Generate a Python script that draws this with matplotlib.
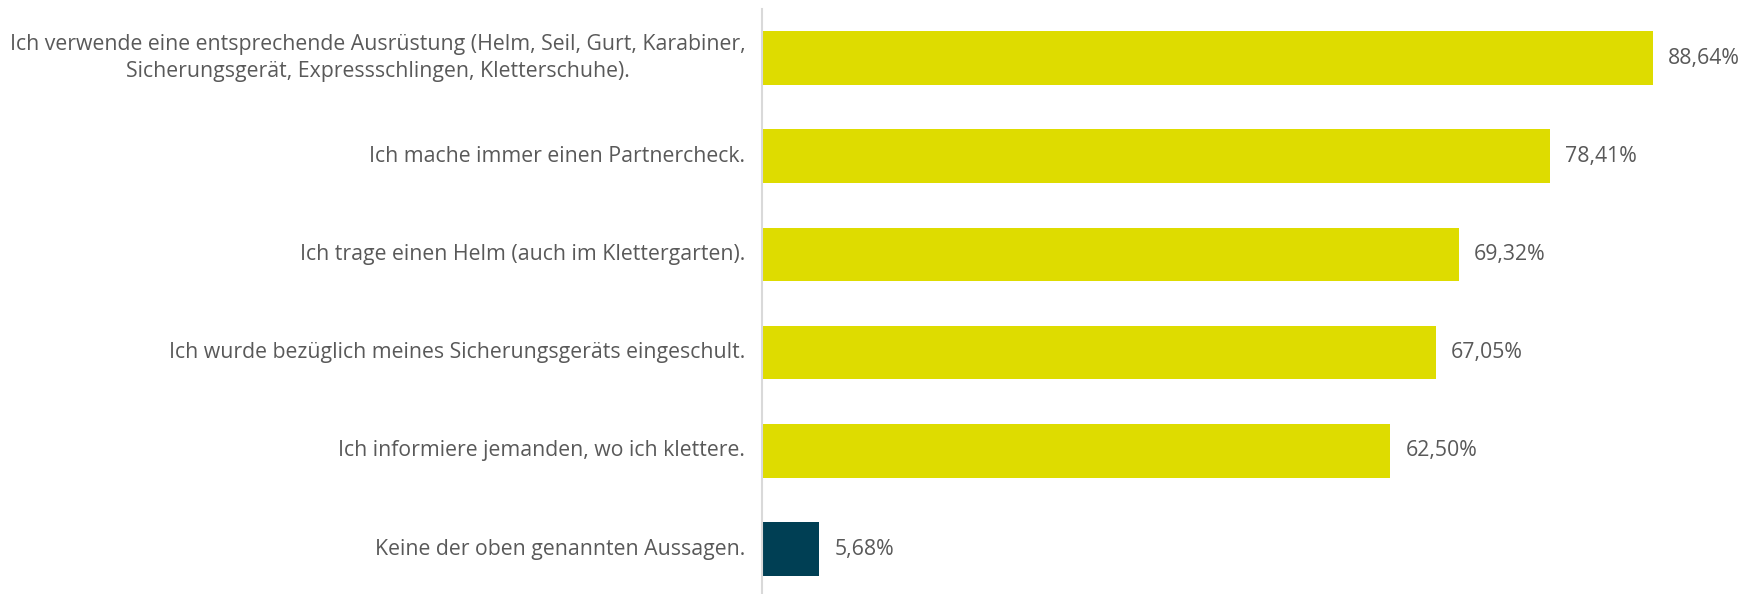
import matplotlib
matplotlib.use("Agg")
import matplotlib.pyplot as plt

# data
categories = [
    "Ich verwende eine entsprechende Ausrüstung (Helm, Seil, Gurt, Karabiner,\nSicherungsgerät, Expressschlingen, Kletterschuhe).",
    "Ich mache immer einen Partnercheck.",
    "Ich trage einen Helm (auch im Klettergarten).",
    "Ich wurde bezüglich meines Sicherungsgeräts eingeschult.",
    "Ich informiere jemanden, wo ich klettere.",
    "Keine der oben genannten Aussagen.",
]
values = [88.64, 78.41, 69.32, 67.05, 62.50, 5.68]
value_labels = ["88,64%", "78,41%", "69,32%", "67,05%", "62,50%", "5,68%"]
bar_colors = ["#DEDC00"] * 5 + ["#003F54"]

plt.rcParams['font.family'] = ['Open Sans', 'DejaVu Sans']
text_color = "#595959"
fs = 15.3

fig = plt.figure(figsize=(17.51, 5.94), dpi=100)
ax = fig.add_axes([762 / 1751, -0.007, 1 - 762 / 1751, 0.992])

pos = list(range(len(categories)))
ax.barh(pos, values, height=0.545, color=bar_colors)
ax.set_ylim(len(categories) - 0.5, -0.5)
ax.set_xlim(0, 98.4)

# value labels next to the bars
for p, v, lab in zip(pos, values, value_labels):
    ax.annotate(lab, (v, p), xytext=(11, 0), textcoords="offset points",
                va="center", ha="left", fontsize=fs, color=text_color)

ax.set_yticks(pos)
ax.set_yticklabels(categories, fontsize=fs, color=text_color, ha="right",
                   va="center", multialignment="center", linespacing=1.35)
ax.tick_params(axis="y", length=0, pad=12)
ax.set_xticks([])
for s in ["top", "right", "bottom"]:
    ax.spines[s].set_visible(False)
ax.spines["left"].set_color("#D9D9D9")
ax.spines["left"].set_linewidth(1.5)

fig.savefig("out.png", dpi=100)
